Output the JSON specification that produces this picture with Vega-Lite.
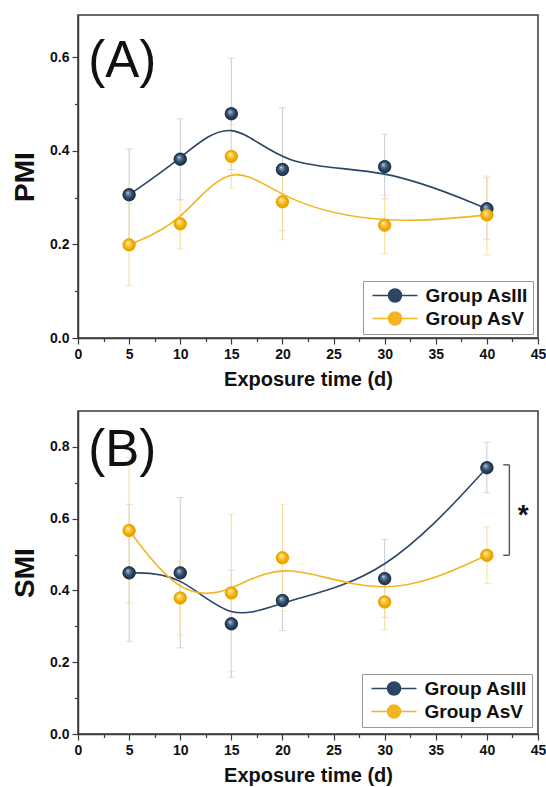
{
  "$schema": "https://vega.github.io/schema/vega-lite/v6.json",
  "padding": {"left": 10, "top": 14, "right": 6, "bottom": 2},
  "autosize": {"type": "pad"},
  "bounds": "flush",
  "spacing": 73,
  "config": {
    "font": "Liberation Sans",
    "view": {"stroke": "#3a3a3a", "strokeWidth": 1.5},
    "axis": {
      "labelFont": "Liberation Sans", "labelFontWeight": "bold", "labelFontSize": 14, "labelColor": "#111111",
      "titleFont": "Liberation Sans", "titleFontWeight": "bold", "titleColor": "#111111",
      "domainColor": "#3a3a3a", "domainWidth": 1.5, "tickColor": "#3a3a3a", "tickWidth": 1.2, "tickSize": 6,
      "grid": false, "labelFlush": false, "labelOverlap": false
    }
  },
  "datasets": {
    "pmi": [
      {"group": "Group AsIII", "t": 5, "v": 0.306, "lo": 0.208, "hi": 0.404},
      {"group": "Group AsIII", "t": 10, "v": 0.382, "lo": 0.295, "hi": 0.468},
      {"group": "Group AsIII", "t": 15, "v": 0.479, "lo": 0.360, "hi": 0.598},
      {"group": "Group AsIII", "t": 20, "v": 0.360, "lo": 0.229, "hi": 0.492},
      {"group": "Group AsIII", "t": 30, "v": 0.366, "lo": 0.297, "hi": 0.435},
      {"group": "Group AsIII", "t": 40, "v": 0.276, "lo": 0.211, "hi": 0.342},
      {"group": "Group AsV", "t": 5, "v": 0.199, "lo": 0.112, "hi": 0.287},
      {"group": "Group AsV", "t": 10, "v": 0.244, "lo": 0.190, "hi": 0.296},
      {"group": "Group AsV", "t": 15, "v": 0.388, "lo": 0.320, "hi": 0.455},
      {"group": "Group AsV", "t": 20, "v": 0.291, "lo": 0.210, "hi": 0.372},
      {"group": "Group AsV", "t": 30, "v": 0.241, "lo": 0.180, "hi": 0.304},
      {"group": "Group AsV", "t": 40, "v": 0.263, "lo": 0.177, "hi": 0.346}
    ],
    "smi": [
      {"group": "Group AsIII", "t": 5, "v": 0.449, "lo": 0.258, "hi": 0.640},
      {"group": "Group AsIII", "t": 10, "v": 0.449, "lo": 0.240, "hi": 0.659},
      {"group": "Group AsIII", "t": 15, "v": 0.307, "lo": 0.158, "hi": 0.457},
      {"group": "Group AsIII", "t": 20, "v": 0.372, "lo": 0.288, "hi": 0.456},
      {"group": "Group AsIII", "t": 30, "v": 0.433, "lo": 0.325, "hi": 0.542},
      {"group": "Group AsIII", "t": 40, "v": 0.742, "lo": 0.672, "hi": 0.813},
      {"group": "Group AsV", "t": 5, "v": 0.567, "lo": 0.365, "hi": 0.770},
      {"group": "Group AsV", "t": 10, "v": 0.379, "lo": 0.276, "hi": 0.482},
      {"group": "Group AsV", "t": 15, "v": 0.393, "lo": 0.174, "hi": 0.613},
      {"group": "Group AsV", "t": 20, "v": 0.491, "lo": 0.342, "hi": 0.640},
      {"group": "Group AsV", "t": 30, "v": 0.368, "lo": 0.291, "hi": 0.445},
      {"group": "Group AsV", "t": 40, "v": 0.498, "lo": 0.419, "hi": 0.577}
    ],
    "bracket": [
      {"t": 42.2, "t0": 41.6, "top": 0.750, "bottom": 0.498}
    ],
    "labelA": [{"t": 1, "v": 0.558, "label": "(A)"}],
    "labelB": [{"t": 1, "v": 0.747, "label": "(B)"}],
    "star": [{"t": 43.55, "v": 0.585, "label": "*"}]
  },
  "resolve": {
    "scale": {"x": "independent", "y": "independent", "fill": "independent", "stroke": "independent"},
    "legend": {"fill": "independent", "stroke": "independent"}
  },
  "vconcat": [
    {
      "width": 460, "height": 323,
      "data": {"name": "pmi"},
      "resolve": {"axis": {"x": "independent", "y": "independent"}},
      "encoding": {
        "x": {"field": "t", "type": "quantitative", "scale": {"domain": [0, 45], "nice": false, "zero": false}, "axis": null}
      },
      "layer": [
        {
          "transform": [{"filter": "datum.group === 'Group AsIII'"}],
          "mark": {"type": "errorbar", "ticks": true, "size": 7, "thickness": 1, "color": "#c4ccd7"},
          "encoding": {"y": {"field": "lo", "type": "quantitative", "axis": null}, "y2": {"field": "hi"}}
        },
        {
          "transform": [{"filter": "datum.group === 'Group AsV'"}],
          "mark": {"type": "errorbar", "ticks": true, "size": 7, "thickness": 1, "color": "#f7dc96"},
          "encoding": {"y": {"field": "lo", "type": "quantitative", "axis": null}, "y2": {"field": "hi"}}
        },
        {
          "mark": {"type": "line", "interpolate": "basis", "strokeWidth": 1.6},
          "encoding": {
            "x": {"field": "t", "type": "quantitative", "title": "Exposure time (d)",
              "scale": {"domain": [0, 45], "nice": false, "zero": false},
              "axis": {"orient": "bottom", "values": [0, 5, 10, 15, 20, 25, 30, 35, 40, 45],
                "labelPadding": 3, "titleFontSize": 20, "titlePadding": 8}
            },
            "y": {"field": "v", "type": "quantitative", "title": "PMI",
              "scale": {"domain": [0, 0.69], "nice": false, "zero": false},
              "axis": {"orient": "left", "values": [0, 0.2, 0.4, 0.6], "format": ".1f",
                "labelPadding": 3, "titleFontSize": 28, "titlePadding": 10}
            },
            "stroke": {"field": "group", "type": "nominal",
              "scale": {"domain": ["Group AsIII", "Group AsV"], "range": ["#2b4565", "#f4b421"]},
              "legend": {"orient": "none", "legendX": 285, "legendY": 266, "title": null,
                "strokeColor": "#9a9a9a", "fillColor": "#ffffff", "padding": 5,
                "symbolType": "M-3.46,0H-1M1,0H3.46M-1,0A1,1 0 1,0 1,0A1,1 0 1,0 -1,0Z",
                "symbolSize": 169, "symbolStrokeWidth": 1.5, "symbolOffset": 17.5, "labelOffset": 21,
                "labelFont": "Liberation Sans", "labelFontSize": 19, "labelFontWeight": "bold", "labelColor": "#111111",
                "rowPadding": 3}
            }
          }
        },
        {
          "mark": {"type": "circle", "size": 155, "opacity": 1, "strokeWidth": 1},
          "encoding": {
            "x": {"field": "t", "type": "quantitative",
              "scale": {"domain": [0, 45], "nice": false, "zero": false},
              "axis": {"orient": "bottom", "values": [2.5, 7.5, 12.5, 17.5, 22.5, 27.5, 32.5, 37.5, 42.5],
                "labels": false, "domain": false, "tickSize": 3.5, "title": null}
            },
            "y": {"field": "v", "type": "quantitative",
              "scale": {"domain": [0, 0.69], "nice": false, "zero": false},
              "axis": {"orient": "left", "values": [0.1, 0.3, 0.5], "labels": false, "domain": false, "tickSize": 3.5, "title": null}
            },
            "fill": {"field": "group", "type": "nominal",
              "scale": {"domain": ["Group AsIII", "Group AsV"], "range": ["#2b4565", "#f4b421"]},
              "legend": {"orient": "none", "legendX": 285, "legendY": 266, "title": null,
                "strokeColor": "#9a9a9a", "fillColor": "#ffffff", "padding": 5,
                "symbolType": "M-3.46,0H-1M1,0H3.46M-1,0A1,1 0 1,0 1,0A1,1 0 1,0 -1,0Z",
                "symbolSize": 169, "symbolStrokeWidth": 1.5, "symbolOffset": 17.5, "labelOffset": 21,
                "labelFont": "Liberation Sans", "labelFontSize": 19, "labelFontWeight": "bold", "labelColor": "#111111",
                "rowPadding": 3}
            },
            "stroke": {"field": "group", "type": "nominal",
              "scale": {"domain": ["Group AsIII", "Group AsV"], "range": ["#2b4565", "#f4b421"]},
              "legend": {"orient": "none", "legendX": 285, "legendY": 266, "title": null,
                "strokeColor": "#9a9a9a", "fillColor": "#ffffff", "padding": 5,
                "symbolType": "M-3.46,0H-1M1,0H3.46M-1,0A1,1 0 1,0 1,0A1,1 0 1,0 -1,0Z",
                "symbolSize": 169, "symbolStrokeWidth": 1.5, "symbolOffset": 17.5, "labelOffset": 21,
                "labelFont": "Liberation Sans", "labelFontSize": 19, "labelFontWeight": "bold", "labelColor": "#111111",
                "rowPadding": 3}
            }
          }
        },
        {
          "transform": [{"filter": "datum.group === 'Group AsIII'"}],
          "mark": {"type": "circle", "size": 155, "opacity": 1,
            "fill": {"gradient": "radial", "x1": 0.38, "y1": 0.32, "r1": 0, "x2": 0.5, "y2": 0.5, "r2": 0.5,
              "stops": [{"offset": 0, "color": "#e8eef5"}, {"offset": 0.2, "color": "#7d93ad"}, {"offset": 0.58, "color": "#33506f"}, {"offset": 1, "color": "#1a2b40"}]}},
          "encoding": {"y": {"field": "v", "type": "quantitative", "axis": null}}
        },
        {
          "transform": [{"filter": "datum.group === 'Group AsV'"}],
          "mark": {"type": "circle", "size": 155, "opacity": 1,
            "fill": {"gradient": "radial", "x1": 0.38, "y1": 0.32, "r1": 0, "x2": 0.5, "y2": 0.5, "r2": 0.5,
              "stops": [{"offset": 0, "color": "#fffbe8"}, {"offset": 0.2, "color": "#ffe07a"}, {"offset": 0.58, "color": "#f8b612"}, {"offset": 1, "color": "#e39a00"}]}},
          "encoding": {"y": {"field": "v", "type": "quantitative", "axis": null}}
        },
        {
          "data": {"name": "labelA"},
          "mark": {"type": "text", "font": "Liberation Sans", "fontSize": 51, "align": "left", "baseline": "alphabetic", "color": "#111111"},
          "encoding": {"y": {"field": "v", "type": "quantitative", "axis": null}, "text": {"field": "label"}}
        }
      ]
    },
    {
      "width": 460, "height": 323,
      "data": {"name": "smi"},
      "resolve": {"axis": {"x": "independent", "y": "independent"}},
      "encoding": {
        "x": {"field": "t", "type": "quantitative", "scale": {"domain": [0, 45], "nice": false, "zero": false}, "axis": null}
      },
      "layer": [
        {
          "transform": [{"filter": "datum.group === 'Group AsIII'"}],
          "mark": {"type": "errorbar", "ticks": true, "size": 7, "thickness": 1, "color": "#c4ccd7"},
          "encoding": {"y": {"field": "lo", "type": "quantitative", "axis": null}, "y2": {"field": "hi"}}
        },
        {
          "transform": [{"filter": "datum.group === 'Group AsV'"}],
          "mark": {"type": "errorbar", "ticks": true, "size": 7, "thickness": 1, "color": "#f7dc96"},
          "encoding": {"y": {"field": "lo", "type": "quantitative", "axis": null}, "y2": {"field": "hi"}}
        },
        {
          "mark": {"type": "line", "interpolate": "basis", "strokeWidth": 1.6},
          "encoding": {
            "x": {"field": "t", "type": "quantitative", "title": "Exposure time (d)",
              "scale": {"domain": [0, 45], "nice": false, "zero": false},
              "axis": {"orient": "bottom", "values": [0, 5, 10, 15, 20, 25, 30, 35, 40, 45],
                "labelPadding": 3, "titleFontSize": 20, "titlePadding": 8}
            },
            "y": {"field": "v", "type": "quantitative", "title": "SMI",
              "scale": {"domain": [0, 0.9], "nice": false, "zero": false},
              "axis": {"orient": "left", "values": [0, 0.2, 0.4, 0.6, 0.8], "format": ".1f",
                "labelPadding": 3, "titleFontSize": 28, "titlePadding": 10}
            },
            "stroke": {"field": "group", "type": "nominal",
              "scale": {"domain": ["Group AsIII", "Group AsV"], "range": ["#2b4565", "#f4b421"]},
              "legend": {"orient": "none", "legendX": 284, "legendY": 263, "title": null,
                "strokeColor": "#9a9a9a", "fillColor": "#ffffff", "padding": 5,
                "symbolType": "M-3.46,0H-1M1,0H3.46M-1,0A1,1 0 1,0 1,0A1,1 0 1,0 -1,0Z",
                "symbolSize": 169, "symbolStrokeWidth": 1.5, "symbolOffset": 17.5, "labelOffset": 21,
                "labelFont": "Liberation Sans", "labelFontSize": 19, "labelFontWeight": "bold", "labelColor": "#111111",
                "rowPadding": 3}
            }
          }
        },
        {
          "mark": {"type": "circle", "size": 155, "opacity": 1, "strokeWidth": 1},
          "encoding": {
            "x": {"field": "t", "type": "quantitative",
              "scale": {"domain": [0, 45], "nice": false, "zero": false},
              "axis": {"orient": "bottom", "values": [2.5, 7.5, 12.5, 17.5, 22.5, 27.5, 32.5, 37.5, 42.5],
                "labels": false, "domain": false, "tickSize": 3.5, "title": null}
            },
            "y": {"field": "v", "type": "quantitative",
              "scale": {"domain": [0, 0.9], "nice": false, "zero": false},
              "axis": {"orient": "left", "values": [0.1, 0.3, 0.5, 0.7], "labels": false, "domain": false, "tickSize": 3.5, "title": null}
            },
            "fill": {"field": "group", "type": "nominal",
              "scale": {"domain": ["Group AsIII", "Group AsV"], "range": ["#2b4565", "#f4b421"]},
              "legend": {"orient": "none", "legendX": 284, "legendY": 263, "title": null,
                "strokeColor": "#9a9a9a", "fillColor": "#ffffff", "padding": 5,
                "symbolType": "M-3.46,0H-1M1,0H3.46M-1,0A1,1 0 1,0 1,0A1,1 0 1,0 -1,0Z",
                "symbolSize": 169, "symbolStrokeWidth": 1.5, "symbolOffset": 17.5, "labelOffset": 21,
                "labelFont": "Liberation Sans", "labelFontSize": 19, "labelFontWeight": "bold", "labelColor": "#111111",
                "rowPadding": 3}
            },
            "stroke": {"field": "group", "type": "nominal",
              "scale": {"domain": ["Group AsIII", "Group AsV"], "range": ["#2b4565", "#f4b421"]},
              "legend": {"orient": "none", "legendX": 284, "legendY": 263, "title": null,
                "strokeColor": "#9a9a9a", "fillColor": "#ffffff", "padding": 5,
                "symbolType": "M-3.46,0H-1M1,0H3.46M-1,0A1,1 0 1,0 1,0A1,1 0 1,0 -1,0Z",
                "symbolSize": 169, "symbolStrokeWidth": 1.5, "symbolOffset": 17.5, "labelOffset": 21,
                "labelFont": "Liberation Sans", "labelFontSize": 19, "labelFontWeight": "bold", "labelColor": "#111111",
                "rowPadding": 3}
            }
          }
        },
        {
          "transform": [{"filter": "datum.group === 'Group AsIII'"}],
          "mark": {"type": "circle", "size": 155, "opacity": 1,
            "fill": {"gradient": "radial", "x1": 0.38, "y1": 0.32, "r1": 0, "x2": 0.5, "y2": 0.5, "r2": 0.5,
              "stops": [{"offset": 0, "color": "#e8eef5"}, {"offset": 0.2, "color": "#7d93ad"}, {"offset": 0.58, "color": "#33506f"}, {"offset": 1, "color": "#1a2b40"}]}},
          "encoding": {"y": {"field": "v", "type": "quantitative", "axis": null}}
        },
        {
          "transform": [{"filter": "datum.group === 'Group AsV'"}],
          "mark": {"type": "circle", "size": 155, "opacity": 1,
            "fill": {"gradient": "radial", "x1": 0.38, "y1": 0.32, "r1": 0, "x2": 0.5, "y2": 0.5, "r2": 0.5,
              "stops": [{"offset": 0, "color": "#fffbe8"}, {"offset": 0.2, "color": "#ffe07a"}, {"offset": 0.58, "color": "#f8b612"}, {"offset": 1, "color": "#e39a00"}]}},
          "encoding": {"y": {"field": "v", "type": "quantitative", "axis": null}}
        },
        {
          "data": {"name": "bracket"},
          "mark": {"type": "rule", "color": "#555555", "strokeWidth": 1.4},
          "encoding": {"x": {"field": "t", "type": "quantitative", "axis": null}, "y": {"field": "top", "type": "quantitative", "axis": null}, "y2": {"field": "bottom"}}
        },
        {
          "data": {"name": "bracket"},
          "mark": {"type": "rule", "color": "#555555", "strokeWidth": 1.4},
          "encoding": {"x": {"field": "t0", "type": "quantitative", "axis": null}, "x2": {"field": "t"}, "y": {"field": "top", "type": "quantitative", "axis": null}}
        },
        {
          "data": {"name": "bracket"},
          "mark": {"type": "rule", "color": "#555555", "strokeWidth": 1.4},
          "encoding": {"x": {"field": "t0", "type": "quantitative", "axis": null}, "x2": {"field": "t"}, "y": {"field": "bottom", "type": "quantitative", "axis": null}}
        },
        {
          "data": {"name": "star"},
          "mark": {"type": "text", "font": "Liberation Sans", "fontSize": 28, "fontWeight": "bold", "align": "center", "baseline": "alphabetic", "color": "#111111"},
          "encoding": {"y": {"field": "v", "type": "quantitative", "axis": null}, "text": {"field": "label"}}
        },
        {
          "data": {"name": "labelB"},
          "mark": {"type": "text", "font": "Liberation Sans", "fontSize": 51, "align": "left", "baseline": "alphabetic", "color": "#111111"},
          "encoding": {"y": {"field": "v", "type": "quantitative", "axis": null}, "text": {"field": "label"}}
        }
      ]
    }
  ]
}
